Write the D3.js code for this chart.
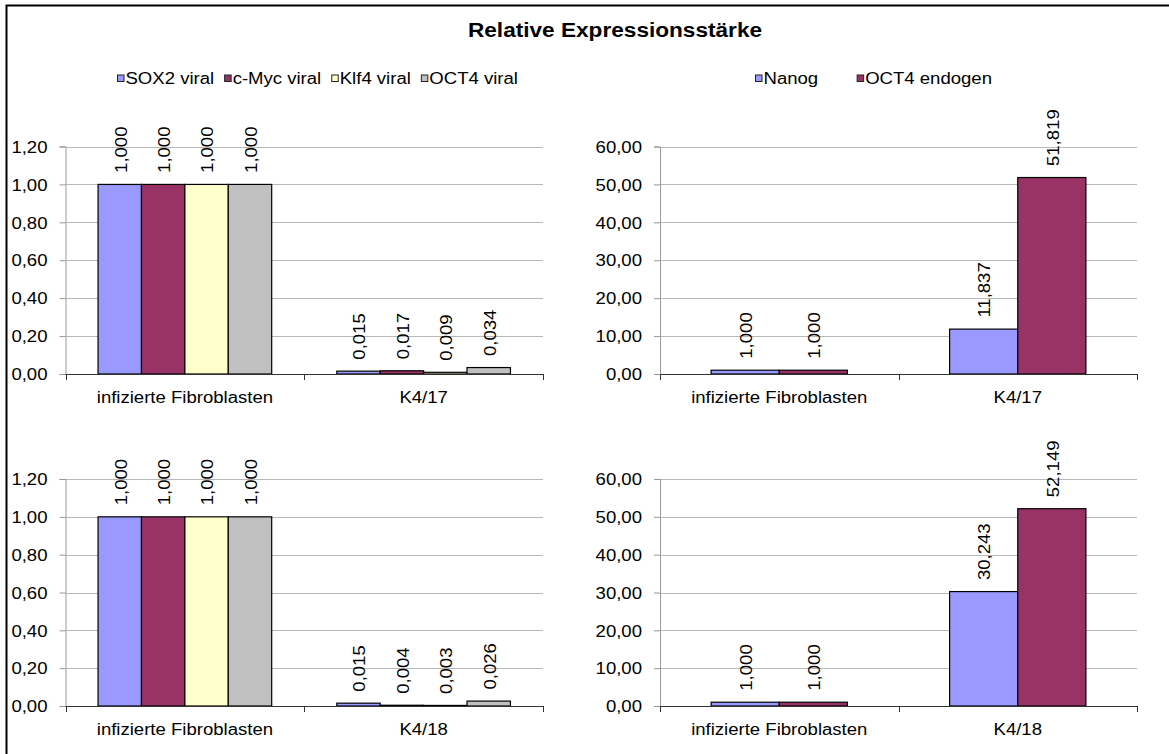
<!DOCTYPE html>
<html>
<head>
<meta charset="utf-8">
<script src="https://cdn.jsdelivr.net/npm/d3@7"></script>
<style>
  html, body { margin: 0; padding: 0; background: #fff; }
  svg { display: block; }
  text { font-family: "Liberation Sans", Arial, sans-serif; fill: #000; }
</style>
</head>
<body>
<svg id="chart" width="1169" height="754"></svg>
<script>
// ---- data ----
const chartTitle = "Relative Expressionsstärke";
const viralSeries = ["SOX2 viral", "c-Myc viral", "Klf4 viral", "OCT4 viral"];
const viralColors = ["#9999FF", "#993366", "#FFFFCC", "#C0C0C0"];
const endoSeries = ["Nanog", "OCT4 endogen"];
const endoColors = ["#9999FF", "#993366"];

const groups17 = ["infizierte Fibroblasten", "K4/17"];
const groups18 = ["infizierte Fibroblasten", "K4/18"];

// values per series, one entry per group
const viral17 = [[1.000, 0.015], [1.000, 0.017], [1.000, 0.009], [1.000, 0.034]];
const viral18 = [[1.000, 0.015], [1.000, 0.004], [1.000, 0.003], [1.000, 0.026]];
const endo17 = [[1.000, 11.837], [1.000, 51.819]];
const endo18 = [[1.000, 30.243], [1.000, 52.149]];

const viralTicks = [0, 0.2, 0.4, 0.6, 0.8, 1.0, 1.2];
const endoTicks = [0, 10, 20, 30, 40, 50, 60];

// ---- helpers ----
const locale = d3.formatLocale({ decimal: ",", thousands: ".", grouping: [3], currency: ["", " €"] });
const fmtTick = locale.format(".2f");
const fmtValue = locale.format(".3f");
const SX = 1.16;           // horizontal glyph widening of the chart font
const FS = 16;

const svg = d3.select("#chart");

// frame (left and top edges)
svg.append("path")
  .attr("d", "M6.5,754 L6.5,5.5 L1169,5.5")
  .attr("fill", "none").attr("stroke", "#000").attr("stroke-width", 2);

// title
svg.append("text")
  .attr("transform", `translate(615,37.3) scale(${SX},1)`)
  .attr("text-anchor", "middle")
  .style("font-size", "19.5px").style("font-weight", "bold")
  .text(chartTitle);

// horizontal legend: square, label, then an even gap to the next entry
function legend(series, colors, x0, gap, y) {
  const g = svg.append("g");
  let x = x0;
  series.forEach((s, i) => {
    g.append("rect")
      .attr("x", x + 0.5).attr("y", y - 3.5)
      .attr("width", 6.5).attr("height", 6.5)
      .attr("fill", colors[i]).attr("stroke", "#222").attr("stroke-width", 1);
    const t = g.append("text")
      .attr("transform", `translate(${x + 8.5},${y + 5.3}) scale(${SX},1)`)
      .style("font-size", FS + "px")
      .text(s);
    x += 8.5 + t.node().getComputedTextLength() * SX + gap;
  });
}

legend(viralSeries, viralColors, 117, 10, 78.5);
legend(endoSeries, endoColors, 755, 38.5, 78.5);

function panel(opts) {
  const { x0, x1, yTop, yBottom, groups, series, colors, values, ticks } = opts;
  const g = svg.append("g");

  const y = d3.scaleLinear().domain([ticks[0], ticks[ticks.length - 1]]).range([yBottom, yTop]);
  const x = d3.scaleBand().domain(groups).range([x0, x1]).paddingInner(0).paddingOuter(0);
  const xs = d3.scaleBand().domain(series).range([0, x.bandwidth()]).paddingInner(0).paddingOuter(0.75);

  // gridlines
  g.append("g").selectAll("line").data(ticks).join("line")
    .attr("x1", x0).attr("x2", x1)
    .attr("y1", d => Math.round(y(d)) + 0.5).attr("y2", d => Math.round(y(d)) + 0.5)
    .attr("stroke", "#b8b8b8").attr("stroke-width", 1);

  // y axis
  const yAxis = g.append("g")
    .attr("transform", `translate(${x0},0)`)
    .call(d3.axisLeft(y).tickValues(ticks).tickSize(6).tickFormat(fmtTick));
  yAxis.select(".domain").attr("stroke", "#999").attr("stroke-width", 1);
  yAxis.selectAll(".tick line").attr("stroke", "#999");
  yAxis.selectAll(".tick text")
    .attr("x", 0).attr("dy", null).attr("y", 0)
    .attr("transform", `translate(-18,5.7) scale(${SX},1)`)
    .attr("text-anchor", "end")
    .style("font-size", FS + "px").attr("fill", "#000");
  yAxis.attr("font-family", null).attr("font-size", null);

  // bars
  series.forEach((s, si) => {
    const bars = g.append("g");
    bars.selectAll("rect").data(values[si]).join("rect")
      .attr("x", (d, gi) => x(groups[gi]) + xs(s))
      .attr("width", xs.bandwidth())
      .attr("y", d => y(d))
      .attr("height", d => Math.max(0, yBottom - y(d)))
      .attr("fill", colors[si])
      .attr("stroke", "#000").attr("stroke-width", 1.2);

    // value labels, rotated
    bars.selectAll("text").data(values[si]).join("text")
      .attr("transform", (d, gi) => {
        const cx = x(groups[gi]) + xs(s) + xs.bandwidth() / 2 + 1;
        return `translate(${cx},${y(d) - 11.5}) rotate(-90) scale(${SX},1)`;
      })
      .attr("dy", "0.36em")
      .style("font-size", FS + "px")
      .text(d => fmtValue(d));
  });

  // x axis line with boundary ticks
  g.append("line")
    .attr("x1", x0).attr("x2", x1)
    .attr("y1", yBottom + 0.5).attr("y2", yBottom + 0.5)
    .attr("stroke", "#333").attr("stroke-width", 1);
  const bounds = groups.map(d => x(d)).concat([x1]);
  g.append("g").selectAll("line").data(bounds).join("line")
    .attr("x1", d => Math.round(d) + 0.5).attr("x2", d => Math.round(d) + 0.5)
    .attr("y1", yBottom).attr("y2", yBottom + 6)
    .attr("stroke", "#333").attr("stroke-width", 1);

  // category labels
  g.append("g").selectAll("text").data(groups).join("text")
    .attr("transform", d => `translate(${x(d) + x.bandwidth() / 2},${yBottom + 28.5}) scale(${SX},1)`)
    .attr("text-anchor", "middle")
    .style("font-size", FS + "px")
    .text(d => d);
}

panel({ x0: 65.5, x1: 543, yTop: 146.5, yBottom: 374, groups: groups17,
        series: viralSeries, colors: viralColors, values: viral17, ticks: viralTicks });
panel({ x0: 660, x1: 1137, yTop: 146.5, yBottom: 374, groups: groups17,
        series: endoSeries, colors: endoColors, values: endo17, ticks: endoTicks });
panel({ x0: 65.5, x1: 543, yTop: 479, yBottom: 706, groups: groups18,
        series: viralSeries, colors: viralColors, values: viral18, ticks: viralTicks });
panel({ x0: 660, x1: 1137, yTop: 479, yBottom: 706, groups: groups18,
        series: endoSeries, colors: endoColors, values: endo18, ticks: endoTicks });
</script>
</body>
</html>
